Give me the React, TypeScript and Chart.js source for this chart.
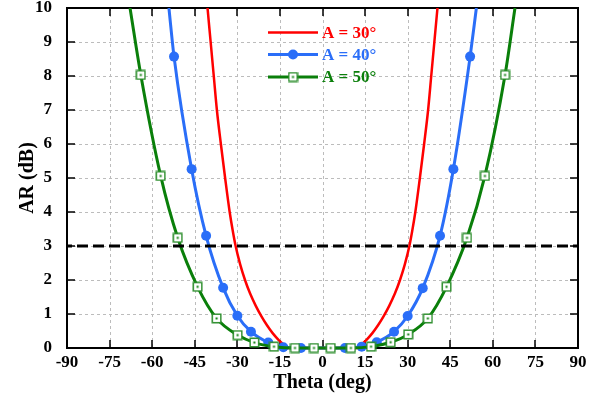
import React, { useEffect, useRef } from "react";
import { Chart, registerables } from "chart.js";

Chart.register(...registerables);

// ---- data ----
const xMin = -90;
const xMax = 90;
const xStep = 15;
const yMin = 0;
const yMax = 10;
const yStep = 1;
const thresholdAR = 3;

const seriesLabels = ["A = 30°", "A = 40°", "A = 50°"];

// A = 30° (line only)
const redTheta = [-40.5, -39.4, -38.3, -37.2, -35.8, -34.3, -32.7, -31.6, -30.6, -29.0, -27.3, -25.5, -23.5, -21.5, -19.5, -17.5, -15.5, -14.0, -12.6,
  12.6, 14.0, 15.5, 17.5, 19.5, 21.5, 23.5, 25.5, 27.3, 29.0, 30.6, 31.6, 32.7, 34.3, 35.8, 37.2, 38.3, 39.4, 40.5];
const redAR = [10, 9, 8, 7, 6, 5, 4, 3.44, 3, 2.46, 2.0, 1.6, 1.24, 0.93, 0.66, 0.43, 0.24, 0.12, 0,
  0, 0.12, 0.24, 0.43, 0.66, 0.93, 1.24, 1.6, 2.0, 2.46, 3, 3.44, 4, 5, 6, 7, 8, 9, 10];

// A = 40° markers
const blueMarkTheta = [-52.3, -46.1, -41.0, -35.0, -30.0, -25.2, -19.1, -13.8, -7.6, 7.9, 13.8, 19.1, 25.2, 30.0, 35.3, 41.4, 46.1, 52.0];
const blueMarkAR = [8.57, 5.26, 3.30, 1.77, 0.95, 0.48, 0.16, 0.02, 0, 0, 0.04, 0.17, 0.48, 0.94, 1.76, 3.30, 5.26, 8.57];
// A = 40° curve ends (where it leaves the plot)
const blueEndTheta = [-54.1, 54.2];
const blueEndAR = [10, 10];

// A = 50° markers
const greenMarkTheta = [-64.0, -57.0, -51.0, -44.0, -37.3, -29.9, -24.0, -17.1, -9.7, -3.0, 2.9, 10.0, 17.1, 24.0, 30.2, 37.1, 43.7, 50.9, 57.2, 64.3];
const greenMarkAR = [8.03, 5.06, 3.24, 1.80, 0.87, 0.38, 0.16, 0.04, 0, 0, 0, 0, 0.04, 0.17, 0.40, 0.87, 1.80, 3.24, 5.06, 8.03];
const greenEndTheta = [-67.8, 67.8];
const greenEndAR = [10, 10];

// ---- styles ----
const RED = "#ff0000";
const BLUE = "#2a6ef8";
const GREEN = "#0a7f0a";
const FONT = "'Liberation Serif', 'Times New Roman', serif";

type P = { x: number; y: number; m: boolean };

function build(mt: number[], ma: number[], et: number[], ea: number[]): P[] {
  const pts: P[] = [];
  mt.forEach((t, i) => pts.push({ x: t, y: ma[i], m: true }));
  et.forEach((t, i) => pts.push({ x: t, y: ea[i], m: false }));
  pts.sort((a, b) => a.x - b.x);
  return pts;
}

function makeSquare(): HTMLCanvasElement {
  const c = document.createElement("canvas");
  c.width = 11;
  c.height = 11;
  const g = c.getContext("2d")!;
  g.fillStyle = "#ffffff";
  g.fillRect(1, 1, 9, 9);
  g.strokeStyle = "#2f8f2f";
  g.lineWidth = 1.5;
  g.strokeRect(1.25, 1.25, 8.5, 8.5);
  g.fillStyle = GREEN;
  g.fillRect(4.5, 4.5, 2, 2);
  return c;
}

const framePlugin = {
  id: "frame",
  beforeDatasetsDraw(chart: any) {
    const { ctx, chartArea: a, scales } = chart;
    const x = scales.x;
    const y = scales.y;
    ctx.save();
    // dashed grid
    ctx.strokeStyle = "#bcbcbc";
    ctx.lineWidth = 1;
    ctx.setLineDash([3, 3]);
    x.ticks.forEach((t: any) => {
      if (t.value <= x.min || t.value >= x.max) return;
      const px = Math.round(x.getPixelForValue(t.value)) + 0.5;
      ctx.beginPath();
      ctx.moveTo(px, a.top);
      ctx.lineTo(px, a.bottom);
      ctx.stroke();
    });
    y.ticks.forEach((t: any) => {
      if (t.value <= y.min || t.value >= y.max) return;
      const py = Math.round(y.getPixelForValue(t.value)) + 0.5;
      ctx.beginPath();
      ctx.moveTo(a.left, py);
      ctx.lineTo(a.right, py);
      ctx.stroke();
    });
    ctx.setLineDash([]);
    // inward tick marks
    ctx.strokeStyle = "#000";
    ctx.lineWidth = 1.5;
    const tl = 8;
    x.ticks.forEach((t: any) => {
      const px = Math.round(x.getPixelForValue(t.value));
      ctx.beginPath();
      ctx.moveTo(px, a.bottom);
      ctx.lineTo(px, a.bottom - tl);
      ctx.moveTo(px, a.top);
      ctx.lineTo(px, a.top + tl);
      ctx.stroke();
    });
    y.ticks.forEach((t: any) => {
      const py = Math.round(y.getPixelForValue(t.value));
      ctx.beginPath();
      ctx.moveTo(a.left, py);
      ctx.lineTo(a.left + tl, py);
      ctx.moveTo(a.right, py);
      ctx.lineTo(a.right - tl, py);
      ctx.stroke();
    });
    // box
    ctx.lineWidth = 2;
    ctx.strokeRect(a.left, a.top, a.right - a.left, a.bottom - a.top);
    ctx.restore();
  },
};

function makeLegendPlugin(square: HTMLCanvasElement) {
  return {
    id: "innerLegend",
    afterDraw(chart: any) {
      const { ctx, chartArea: a } = chart;
      const x0 = a.left + 201;
      const x1 = a.left + 251;
      const rows = [a.top + 24.5, a.top + 46.5, a.top + 69];
      ctx.save();
      for (let i = 0; i < 3; i++) {
        const ds = chart.data.datasets[i];
        const yy = rows[i];
        ctx.strokeStyle = ds.borderColor;
        ctx.lineWidth = ds.borderWidth;
        ctx.beginPath();
        ctx.moveTo(x0, yy);
        ctx.lineTo(x1, yy);
        ctx.stroke();
        const cx = (x0 + x1) / 2;
        if (i === 1) {
          ctx.fillStyle = BLUE;
          ctx.beginPath();
          ctx.arc(cx, yy, 5, 0, Math.PI * 2);
          ctx.fill();
        } else if (i === 2) {
          ctx.drawImage(square, cx - square.width / 2, yy - square.height / 2);
        }
        ctx.fillStyle = ds.borderColor;
        ctx.font = `bold 17px ${FONT}`;
        ctx.textAlign = "left";
        ctx.textBaseline = "middle";
        ctx.fillText(ds.label, x1 + 4, yy + 1);
      }
      ctx.restore();
    },
  };
}

export default function App() {
  const ref = useRef<HTMLCanvasElement | null>(null);

  useEffect(() => {
    if (!ref.current) return;
    const square = makeSquare();
    const red: P[] = redTheta.map((t, i) => ({ x: t, y: redAR[i], m: false }));
    const blue = build(blueMarkTheta, blueMarkAR, blueEndTheta, blueEndAR);
    const green = build(greenMarkTheta, greenMarkAR, greenEndTheta, greenEndAR);
    const clip = { left: 0, top: 0, right: 0, bottom: 8 };

    const chart = new Chart(ref.current, {
      type: "scatter",
      data: {
        datasets: [
          {
            label: seriesLabels[0],
            data: red,
            showLine: true,
            borderColor: RED,
            backgroundColor: RED,
            borderWidth: 2.5,
            pointRadius: 0,
            cubicInterpolationMode: "monotone",
            clip,
            order: 4,
          } as any,
          {
            label: seriesLabels[1],
            data: blue,
            showLine: true,
            borderColor: BLUE,
            backgroundColor: BLUE,
            borderWidth: 3,
            pointRadius: (c: any) => (c.raw && c.raw.m ? 5 : 0),
            pointBorderWidth: 0,
            pointBackgroundColor: BLUE,
            cubicInterpolationMode: "monotone",
            clip,
            order: 3,
          } as any,
          {
            label: seriesLabels[2],
            data: green,
            showLine: true,
            borderColor: GREEN,
            backgroundColor: GREEN,
            borderWidth: 3,
            pointRadius: (c: any) => (c.raw && c.raw.m ? 5 : 0),
            pointStyle: square,
            cubicInterpolationMode: "monotone",
            clip,
            order: 2,
          } as any,
          {
            label: "3 dB",
            data: [
              { x: xMin, y: thresholdAR },
              { x: xMax, y: thresholdAR },
            ],
            showLine: true,
            borderColor: "#000",
            borderWidth: 3,
            borderDash: [11, 5],
            borderDashOffset: 6,
            pointRadius: 0,
            clip,
            order: 1,
          } as any,
        ],
      },
      options: {
        animation: false,
        responsive: false,
        devicePixelRatio: 1,
        events: [],
        layout: { padding: { top: 8, right: 25, left: 0, bottom: 0 } },
        plugins: { legend: { display: false }, tooltip: { enabled: false } },
        scales: {
          x: {
            type: "linear",
            min: xMin,
            max: xMax,
            grid: { display: false, drawTicks: false },
            border: { display: false },
            ticks: {
              stepSize: xStep,
              padding: 4,
              color: "#000",
              font: { family: FONT, size: 17, weight: "bold" },
              maxRotation: 0,
            },
            title: {
              display: true,
              text: "Theta (deg)",
              color: "#000",
              font: { family: FONT, size: 20, weight: "bold" },
              padding: { top: 0, bottom: 4.5 },
            },
            afterFit: (s: any) => {
              s.height = 51;
              s.paddingLeft = 0;
              s.paddingRight = 0;
              s.paddingTop = 0;
              s.paddingBottom = 0;
            },
          },
          y: {
            type: "linear",
            min: yMin,
            max: yMax,
            grid: { display: false, drawTicks: false },
            border: { display: false },
            ticks: {
              stepSize: yStep,
              padding: 15,
              color: "#000",
              font: { family: FONT, size: 17, weight: "bold" },
            },
            title: {
              display: true,
              text: "AR (dB)",
              color: "#000",
              font: { family: FONT, size: 20, weight: "bold" },
              padding: { top: 15.5, bottom: 0 },
            },
            afterFit: (s: any) => {
              s.width = 67;
              s.paddingLeft = 0;
              s.paddingRight = 0;
              s.paddingTop = 0;
              s.paddingBottom = 0;
            },
          },
        },
      } as any,
      plugins: [framePlugin, makeLegendPlugin(square)],
    });
    return () => chart.destroy();
  }, []);

  return (
    <div style={{ position: "absolute", left: 0, top: 0, width: 603, height: 399, background: "#fff" }}>
      <canvas ref={ref} width={603} height={399} style={{ display: "block", width: 603, height: 399 }} />
    </div>
  );
}
